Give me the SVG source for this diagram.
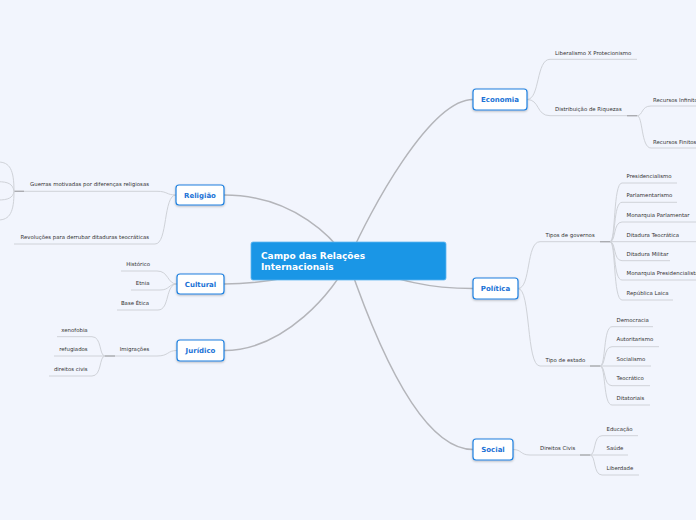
<svg xmlns="http://www.w3.org/2000/svg" width="696" height="520" viewBox="0 0 696 520">
<defs>
<filter id="sh" x="-20%" y="-30%" width="140%" height="170%">
<feDropShadow dx="0" dy="1" stdDeviation="0.8" flood-color="#000" flood-opacity="0.25"/>
</filter>
<style>
.main{fill:none;stroke:#b4b5ba;stroke-width:1.5}
.sub{fill:none;stroke:#cfd2d8;stroke-width:1}
.stub{fill:none;stroke:#a9aaae;stroke-width:1.3}
.box{fill:#fff;stroke:#1f80e0;stroke-width:1.2}
.nt{font-family:"DejaVu Sans",sans-serif;font-size:7px;font-weight:bold;fill:#1a72d6;text-anchor:middle}
.ct{font-family:"DejaVu Sans",sans-serif;font-size:9px;font-weight:bold;fill:#fff}
.lt{font-family:"DejaVu Sans",sans-serif;font-size:5.4px;fill:#333}
.r{text-anchor:end}
</style>
</defs>
<rect width="696" height="520" fill="#f2f5fd"/>
<g id="connectors">
<path class="main" d="M348,261 C370,210 430,99.5 473,99.5"/>
<path class="main" d="M348,261 C400,282 430,288.5 473,288.5"/>
<path class="main" d="M348,261 C375,340 420,449.5 473,449.5"/>
<path class="main" d="M348,261 C335,240 295,195 224,195"/>
<path class="main" d="M348,261 C320,272 270,284 224,284"/>
<path class="main" d="M348,261 C335,290 285,350.5 224,350.5"/>
<path class="sub" d="M527,99.5 C540,99.5 536,59.3 550,59.3 L637,59.3"/>
<path class="sub" d="M527,99.5 C540,99.5 536,115.7 550,115.7 L637,115.7"/>
<path class="sub" d="M637,115.7 C643,115.7 641,106 651,106 L700,106"/>
<path class="sub" d="M637,115.7 C643,115.7 641,148 651,148 L700,148"/>
<line class="stub" x1="627" y1="115.7" x2="637" y2="115.7"/>
<path class="sub" d="M518,288.5 C531,288.5 526,241.7 540,241.7 L610,241.7"/>
<path class="sub" d="M518,288.5 C531,288.5 526,366 540,366 L600,366"/>
<line class="stub" x1="600" y1="241.7" x2="610" y2="241.7"/>
<line class="stub" x1="590" y1="366" x2="600" y2="366"/>
<path class="sub" d="M610,241.7 C616,241.7 613,183 622,183 L677,183"/>
<path class="sub" d="M610,241.7 C616,241.7 613,202.3 622,202.3 L677,202.3"/>
<path class="sub" d="M610,241.7 C616,241.7 613,222 622,222 L700,222"/>
<path class="sub" d="M610,241.7 L700,241.7"/>
<path class="sub" d="M610,241.7 C616,241.7 613,260.7 622,260.7 L670,260.7"/>
<path class="sub" d="M610,241.7 C616,241.7 613,280 622,280 L700,280"/>
<path class="sub" d="M610,241.7 C616,241.7 613,300 622,300 L673,300"/>
<path class="sub" d="M600,366 C606,366 603,326.7 612,326.7 L653,326.7"/>
<path class="sub" d="M600,366 C606,366 603,346.7 612,346.7 L659,346.7"/>
<path class="sub" d="M600,366 L651,366"/>
<path class="sub" d="M600,366 C606,366 603,385.7 612,385.7 L650,385.7"/>
<path class="sub" d="M600,366 C606,366 603,405 612,405 L650,405"/>
<path class="sub" d="M513,449.5 C522,449.5 520,455 530,455 L590,455"/>
<line class="stub" x1="580" y1="455" x2="590" y2="455"/>
<path class="sub" d="M590,455 C596,455 593,435.7 602,435.7 L638,435.7"/>
<path class="sub" d="M590,455 L628,455"/>
<path class="sub" d="M590,455 C596,455 593,475 602,475 L639,475"/>
<path class="sub" d="M176,195 C166,195 168,191.3 157,191.3 L14,191.3"/>
<path class="sub" d="M176,195 C163,195 168,244 155,244 L14,244"/>
<line class="stub" x1="14" y1="191.3" x2="24" y2="191.3"/>
<path class="sub" d="M14,191.3 C14,170 10,162 -2,162 L-10,162"/>
<path class="sub" d="M14,191.3 C13,184 8,181.7 -2,181.7 L-10,181.7"/>
<path class="sub" d="M14,191.3 C13,198 8,200 -2,200 L-10,200"/>
<path class="sub" d="M14,191.3 C14,212 10,220 -2,220 L-10,220"/>
<path class="sub" d="M177,284 C167,284 169,271 157,271 L121,271"/>
<path class="sub" d="M177,284 C168,284 170,290 160,290 L131,290"/>
<path class="sub" d="M177,284 C165,284 170,310 158,310 L117,310"/>
<path class="sub" d="M177,350.5 C167,350.5 169,356 157,356 L105,356"/>
<line class="stub" x1="105" y1="356" x2="115" y2="356"/>
<path class="sub" d="M105,356 C99,356 102,336.7 92,336.7 L57,336.7"/>
<path class="sub" d="M105,356 L54,356"/>
<path class="sub" d="M105,356 C99,356 102,376 92,376 L49,376"/>
</g>
<g id="central">
<rect x="251" y="242" width="195" height="38" rx="2" fill="#1a96e6" stroke="#5fb6f0" stroke-width="0.8"/>
<text class="ct" x="261" y="258.5">Campo das Relações</text>
<text class="ct" x="261" y="270">Internacionais</text>
</g>
<g id="economia"><rect class="box" filter="url(#sh)" x="473" y="89" width="54" height="21" rx="3"/><text class="nt" x="500" y="102">Economia</text></g>
<g id="politica"><rect class="box" filter="url(#sh)" x="473" y="278" width="45" height="21" rx="3"/><text class="nt" x="495.5" y="291">Política</text></g>
<g id="social"><rect class="box" filter="url(#sh)" x="473" y="439" width="40" height="21" rx="3"/><text class="nt" x="493" y="452">Social</text></g>
<g id="religiao"><rect class="box" filter="url(#sh)" x="176" y="185" width="48" height="20" rx="3"/><text class="nt" x="200" y="197.5">Religião</text></g>
<g id="cultural"><rect class="box" filter="url(#sh)" x="177" y="274" width="47" height="20" rx="3"/><text class="nt" x="200.5" y="286.5">Cultural</text></g>
<g id="juridico"><rect class="box" filter="url(#sh)" x="177" y="340" width="47" height="21" rx="3"/><text class="nt" x="200.5" y="353">Jurídico</text></g>
<g id="liberalismo"><text class="lt" x="555" y="55">Liberalismo X Protecionismo</text></g>
<g id="distribuicao"><text class="lt" x="555" y="111">Distribuição de Riquezas</text></g>
<g id="rec-infinitos"><text class="lt" x="653" y="101.7">Recursos Infinitos</text></g>
<g id="rec-finitos"><text class="lt" x="653" y="144.3">Recursos Finitos</text></g>
<g id="tipos-governos"><text class="lt" x="545.5" y="236.7">Tipos de governos</text></g>
<g id="presidencialismo"><text class="lt" x="626.5" y="178.3">Presidencialismo</text></g>
<g id="parlamentarismo"><text class="lt" x="626.5" y="197.3">Parlamentarismo</text></g>
<g id="monarquia-parl"><text class="lt" x="626.5" y="217.3">Monarquia Parlamentar</text></g>
<g id="ditadura-teo"><text class="lt" x="626.5" y="237">Ditadura Teocrática</text></g>
<g id="ditadura-mil"><text class="lt" x="626.5" y="256.3">Ditadura Militar</text></g>
<g id="monarquia-pres"><text class="lt" x="626.5" y="275.3">Monarquia Presidencialista</text></g>
<g id="republica"><text class="lt" x="626.5" y="295.3">República Laica</text></g>
<g id="tipo-estado"><text class="lt" x="545.5" y="361.7">Tipo de estado</text></g>
<g id="democracia"><text class="lt" x="616.5" y="322.3">Democracia</text></g>
<g id="autoritarismo"><text class="lt" x="616.5" y="341.3">Autoritarismo</text></g>
<g id="socialismo"><text class="lt" x="616.5" y="361.3">Socialismo</text></g>
<g id="teocratico"><text class="lt" x="616.5" y="380.3">Teocrático</text></g>
<g id="ditatoriais"><text class="lt" x="616.5" y="400">Ditatoriais</text></g>
<g id="direitos-civis"><text class="lt" x="540" y="450">Direitos Civis</text></g>
<g id="educacao"><text class="lt" x="606.5" y="431">Educação</text></g>
<g id="saude"><text class="lt" x="606.5" y="450">Saúde</text></g>
<g id="liberdade"><text class="lt" x="606.5" y="470">Liberdade</text></g>
<g id="guerras"><text class="lt r" x="149" y="186">Guerras motivadas por diferenças religiosas</text></g>
<g id="revolucoes"><text class="lt r" x="149" y="239.3">Revoluções para derrubar ditaduras teocráticas</text></g>
<g id="historico"><text class="lt r" x="150" y="266">Histórico</text></g>
<g id="etnia"><text class="lt r" x="149.5" y="285.3">Etnia</text></g>
<g id="base-etica"><text class="lt r" x="149" y="305">Base Ética</text></g>
<g id="imigracoes"><text class="lt r" x="149.3" y="351">Imigrações</text></g>
<g id="xenofobia"><text class="lt r" x="87.7" y="332.3">xenofobia</text></g>
<g id="refugiados"><text class="lt r" x="87.7" y="351.3">refugiados</text></g>
<g id="direitos-civis-2"><text class="lt r" x="87.7" y="371">direitos civis</text></g>
</svg>
